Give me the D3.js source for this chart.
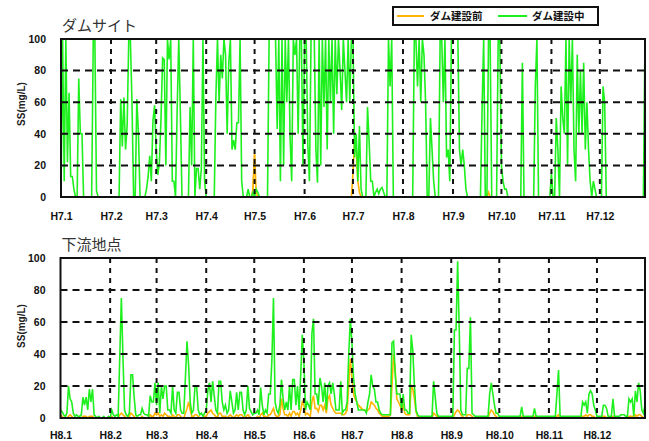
<!DOCTYPE html>
<html>
<head>
<meta charset="utf-8">
<script src="https://cdn.jsdelivr.net/npm/d3@7"></script>
<style>
  body { margin: 0; background: #fff; }
  svg { display: block; }
</style>
</head>
<body>
<svg id="chart" width="649" height="441"></svg>
<script>
// Series names (legend)
const seriesNames = ["ダム建設前", "ダム建設中"];
const seriesColors = ["#ffb400", "#1ef01e"];

// Panel titles
const panelTitles = ["ダムサイト", "下流地点"];

// Y axis ticks
const yTicks = [0, 20, 40, 60, 80, 100];

// Month ticks (day of year at which each month starts)
const damMonthLabels = ["H7.1","H7.2","H7.3","H7.4","H7.5","H7.6","H7.7","H7.8","H7.9","H7.10","H7.11","H7.12"];
const damMonthStarts = [0,31,59,90,120,151,181,212,243,273,304,334];
const downMonthLabels = ["H8.1","H8.2","H8.3","H8.4","H8.5","H8.6","H8.7","H8.8","H8.9","H8.10","H8.11","H8.12"];
const downMonthStarts = [0,31,60,91,121,152,182,213,244,274,305,335];

// Daily SS (mg/L) at the dam site, during construction
const damDuring = [
  0,100,10,100,22,66,13,13,5,0,
  0,75,40,40,0,0,0,0,0,0,
  100,100,4,0,0,0,0,0,0,0,
  0,0,0,0,0,0,0,62,32,63,
  30,45,100,100,60,0,0,62,40,0,
  0,0,0,5,13,26,10,48,58,30,
  14,22,50,88,87,20,100,87,100,10,
  10,0,55,100,53,0,0,0,0,0,
  57,20,100,0,18,18,5,18,100,10,
  0,0,0,0,0,0,63,100,60,90,
  75,100,90,40,85,100,30,36,30,47,
  47,100,10,0,0,0,5,0,0,3,
  0,5,3,0,0,0,0,0,0,100,
  100,100,100,100,43,100,10,100,20,100,
  60,100,38,10,100,90,100,40,100,100,
  20,100,100,33,10,100,100,100,30,9,
  100,20,100,57,100,30,100,60,100,40,
  100,65,100,80,55,100,80,60,100,60,
  100,100,25,40,10,45,5,0,0,0,
  57,35,10,10,0,3,5,2,5,6,
  3,0,0,100,70,100,0,0,0,0,
  0,0,0,0,0,0,0,0,0,100,
  100,70,100,60,100,90,60,0,0,50,
  30,10,0,0,0,100,100,60,100,25,
  30,10,100,100,100,100,100,30,20,30,
  20,5,0,0,0,0,0,0,0,0,
  0,55,100,0,0,100,100,0,0,0,
  0,100,100,20,10,5,5,0,0,0,
  0,0,0,0,0,0,85,0,0,0,
  0,0,0,0,70,100,0,0,0,0,
  0,0,0,0,15,0,0,50,30,0,
  70,50,40,100,20,100,60,100,30,10,
  90,40,80,40,85,30,60,30,10,0,
  10,5,0,0,0,0,70,60,0,0,
  0,0,0,0,0,0,0,0,0,0,
  0,0,0,0,0,0,0,0,0,0,
  0,0,100
];

// Daily SS (mg/L) at the dam site, before construction
const damBefore = [
  0,0,0,0,0,0,0,0,0,0, 0,0,0,0,0,0,0,0,0,0,
  0,0,0,0,0,0,0,0,0,0, 0,0,0,0,0,0,0,0,0,0,
  0,0,0,0,0,0,0,0,0,0, 0,0,0,0,0,0,0,0,0,0,
  0,0,0,0,0,0,0,0,0,0, 0,0,0,0,0,0,0,0,0,0,
  0,0,0,0,0,0,0,0,0,0, 0,0,0,0,0,0,0,0,0,0,
  0,0,0,0,0,0,0,0,0,0, 0,0,0,0,0,0,0,0,0,5,
  27,3,0,0,0,0,0,0,0,0, 0,0,0,0,0,0,0,0,0,0,
  0,0,0,0,0,0,0,0,0,0, 0,0,0,0,0,0,0,0,0,0,
  0,0,0,0,0,0,0,0,0,0, 0,0,0,0,0,0,0,0,0,0,
  0,15,37,30,10,3,0,0,0,0, 0,0,0,0,0,0,0,0,0,0,
  0,0,0,0,0,0,0,0,0,0, 0,0,0,0,0,0,0,0,0,0,
  0,0,0,0,0,0,0,0,0,0, 0,0,0,0,0,0,0,0,0,0,
  0,0,0,0,0,0,0,0,0,0, 0,0,0,0,0,0,0,0,0,0,
  0,0,0,0,0,3,0,0,0,0, 0,0,0,0,0,0,0,0,0,0,
  0,0,0,0,0,0,0,0,0,0, 0,0,0,0,0,0,0,0,0,0,
  0,0,0,0,0,0,0,0,0,0, 0,0,0,0,0,0,0,0,0,0,
  0,0,0,0,0,0,0,0,0,0, 0,0,0,0,0,0,0,0,0,0,
  0,0,0,0,0,0,0,0,0,0, 0,0,0,0,0,0,0,0,0,0,
  0,0,0
];

// Daily SS (mg/L) downstream, during construction
const downDuring = [
  5,4,2,1,3,20,12,10,3,1,
  2,1,1,2,13,8,13,5,18,10,
  18,2,1,0,1,0,0,1,0,0,
  1,0,5,2,1,2,1,38,75,38,
  5,2,1,3,27,27,13,2,1,2,
  2,6,3,2,2,1,14,10,10,22,
  8,22,3,20,12,20,20,5,5,3,
  20,5,3,16,16,5,3,3,25,48,
  33,10,3,5,20,20,5,2,3,1,
  3,5,17,22,10,23,14,5,3,23,
  23,10,5,8,3,5,17,10,3,5,
  16,5,16,16,5,2,5,20,6,4,
  2,3,3,5,2,19,8,2,5,3,
  15,15,36,75,10,5,3,8,24,12,
  5,10,5,20,5,24,24,8,20,5,
  27,52,35,5,10,8,5,53,62,15,
  15,8,25,20,10,22,5,20,22,15,
  22,15,5,5,5,23,3,5,5,10,
  40,62,47,25,15,10,5,5,5,5,
  5,3,10,15,27,20,18,10,10,5,
  3,2,2,2,2,2,2,47,48,28,
  15,15,15,5,15,5,5,3,3,52,
  42,20,5,2,1,1,1,1,1,1,
  1,1,1,23,13,3,1,1,1,1,
  1,1,1,1,1,1,55,55,98,55,
  5,2,2,2,31,31,63,3,2,1,
  1,1,1,1,1,1,1,1,15,22,
  15,8,3,3,1,1,1,1,1,1,
  1,1,1,1,1,1,1,1,7,1,
  1,1,1,1,1,1,6,1,1,1,
  1,1,1,1,1,1,1,1,1,1,
  15,30,1,1,1,1,1,1,1,1,
  1,1,1,1,1,1,10,8,10,3,
  15,17,15,8,5,1,1,1,1,8,
  8,6,1,1,1,12,1,1,1,1,
  2,2,2,1,1,12,10,12,1,17,
  10,22,17,5,3,8
];

// Daily SS (mg/L) downstream, before construction
const downBefore = [
  2,1,0,0,0,1,2,1,0,0,
  0,0,0,0,1,1,1,0,1,1,
  1,0,0,0,0,0,0,0,0,0,
  0,0,1,0,0,0,0,2,3,2,
  1,0,0,1,3,2,1,0,0,0,
  0,1,0,0,0,0,2,1,1,3,
  2,3,1,2,1,3,2,1,1,0,
  2,1,0,2,2,1,0,0,3,6,
  10,5,1,1,2,2,1,0,0,0,
  1,1,3,4,5,3,2,1,0,3,
  3,1,1,1,0,1,2,1,0,1,
  2,1,2,2,1,0,1,2,1,0,
  0,0,0,1,0,2,3,1,1,0,
  2,2,4,6,2,1,1,2,12,6,
  2,2,1,3,1,4,4,2,3,1,
  5,10,8,2,3,2,1,10,14,6,
  6,4,8,8,5,8,3,12,14,8,
  6,4,3,3,3,3,2,2,3,5,
  20,37,25,15,12,10,8,7,6,5,
  5,4,5,6,10,9,8,6,5,3,
  2,1,1,1,1,1,2,20,40,30,
  12,10,8,5,8,3,2,2,2,20,
  18,12,4,1,0,0,0,0,0,0,
  0,0,0,3,2,1,0,0,0,0,
  0,0,0,0,0,0,2,4,5,4,
  2,1,0,0,2,2,2,1,0,0,
  0,0,0,0,0,0,0,0,3,5,
  4,2,1,0,0,0,0,0,0,0,
  0,0,0,0,0,0,0,0,1,0,
  0,0,0,0,0,0,1,0,0,0,
  0,0,0,0,0,0,0,0,0,0,
  1,2,0,0,0,0,0,0,0,0,
  0,0,0,0,0,0,1,1,2,1,
  2,2,1,1,0,0,0,0,0,1,
  1,0,0,0,0,1,0,0,0,0,
  0,0,0,0,0,1,1,1,0,2,
  1,2,2,1,0,1
];

const svg = d3.select("#chart");
const jpFont = "'Noto Sans CJK JP', sans-serif";
const numFont = "'Liberation Sans', Arial, sans-serif";

const panels = [
  { title: panelTitles[0], titleY: 31, left: 61, right: 645, top: 39, bottom: 197,
    days: 362, labels: damMonthLabels, starts: damMonthStarts,
    before: damBefore, during: damDuring, labelY: 220, yTitleY: 104 },
  { title: panelTitles[1], titleY: 250, left: 60.5, right: 645, top: 258, bottom: 418,
    days: 365, labels: downMonthLabels, starts: downMonthStarts,
    before: downBefore, during: downDuring, labelY: 439, yTitleY: 326 }
];

panels.forEach((p, i) => {
  const x = d3.scaleLinear().domain([0, p.days]).range([p.left, p.right]);
  const y = d3.scaleLinear().domain([0, 100]).range([p.bottom, p.top]);
  const g = svg.append("g");

  const clipId = "clip" + i;
  svg.append("clipPath").attr("id", clipId)
    .append("rect")
    .attr("x", p.left).attr("y", p.top - 1)
    .attr("width", p.right - p.left).attr("height", p.bottom - p.top + 1);

  // panel title
  g.append("text")
    .attr("x", p.left + 1).attr("y", p.titleY)
    .attr("font-family", jpFont).attr("font-size", 15)
    .attr("fill", "#333")
    .text(p.title);

  // series lines: before-construction underneath, during-construction on top
  const line = d3.line().x((d, k) => x(k)).y(d => y(d));
  const dataG = g.append("g").attr("clip-path", `url(#${clipId})`);
  dataG.append("path")
    .datum(p.before)
    .attr("fill", "none").attr("stroke", seriesColors[0])
    .attr("stroke-width", 1.6)
    .attr("d", line);
  dataG.append("path")
    .datum(p.during)
    .attr("fill", "none").attr("stroke", seriesColors[1])
    .attr("stroke-width", 1.6).attr("stroke-linejoin", "miter")
    .attr("d", line);
  // keep the orange peaks that rise above the green readings visible
  dataG.append("path")
    .datum(p.before.map((v, k) => v > p.during[k] ? v : null))
    .attr("fill", "none").attr("stroke", seriesColors[0])
    .attr("stroke-width", 1.6)
    .attr("d", d3.line().defined(d => d !== null).x((d, k) => x(k)).y(d => y(d)));

  // horizontal grid
  g.append("g").selectAll("line")
    .data(yTicks.filter(v => v > 0 && v < 100))
    .join("line")
    .attr("x1", p.left).attr("x2", p.right)
    .attr("y1", d => y(d)).attr("y2", d => y(d))
    .attr("stroke", "#111").attr("stroke-width", 2)
    .attr("stroke-dasharray", "7,5");

  // vertical grid at month starts
  g.append("g").selectAll("line")
    .data(p.starts.filter(d => d > 0))
    .join("line")
    .attr("x1", d => x(d)).attr("x2", d => x(d))
    .attr("y1", p.top).attr("y2", p.bottom)
    .attr("stroke", "#111").attr("stroke-width", 2)
    .attr("stroke-dasharray", "5,5");

  // frame
  g.append("rect")
    .attr("x", p.left).attr("y", p.top)
    .attr("width", p.right - p.left).attr("height", p.bottom - p.top)
    .attr("fill", "none").attr("stroke", "#111").attr("stroke-width", 2);

  // y axis labels
  const yAxis = d3.axisLeft(y).tickValues(yTicks).tickSize(0).tickPadding(15);
  const ya = g.append("g").attr("transform", `translate(${p.left},0)`).call(yAxis);
  ya.select(".domain").remove();
  ya.selectAll("text")
    .attr("font-family", numFont).attr("font-size", 10.5)
    .attr("font-weight", "bold").attr("fill", "#111");

  // x axis labels
  const xAxis = d3.axisBottom(x).tickValues(p.starts)
    .tickFormat((d, k) => p.labels[k]).tickSize(0).tickPadding(0);
  const xa = g.append("g").attr("transform", `translate(0,${p.labelY - 9})`).call(xAxis);
  xa.select(".domain").remove();
  xa.selectAll("text")
    .attr("dy", 0).attr("y", 9)
    .attr("font-family", numFont).attr("font-size", 10.5)
    .attr("font-weight", "bold").attr("fill", "#111");

  // y axis title
  g.append("text")
    .attr("transform", `translate(25,${p.yTitleY}) rotate(-90)`)
    .attr("text-anchor", "middle")
    .attr("font-family", numFont).attr("font-size", 10)
    .attr("font-weight", "bold").attr("fill", "#222")
    .text("SS(mg/L)");
});

// legend
const legend = svg.append("g");
legend.append("rect")
  .attr("x", 393).attr("y", 7).attr("width", 205).attr("height", 18)
  .attr("fill", "#fff").attr("stroke", "#111").attr("stroke-width", 2);
const legendItems = [
  { x1: 397, x2: 424, tx: 430 },
  { x1: 498, x2: 527, tx: 532 }
];
legendItems.forEach((it, k) => {
  legend.append("line")
    .attr("x1", it.x1).attr("x2", it.x2).attr("y1", 16).attr("y2", 16)
    .attr("stroke", seriesColors[k]).attr("stroke-width", 2);
  legend.append("text")
    .attr("x", it.tx).attr("y", 20)
    .attr("font-family", jpFont).attr("font-size", 10.5)
    .attr("font-weight", "bold").attr("fill", "#111")
    .text(seriesNames[k]);
});
</script>
</body>
</html>
